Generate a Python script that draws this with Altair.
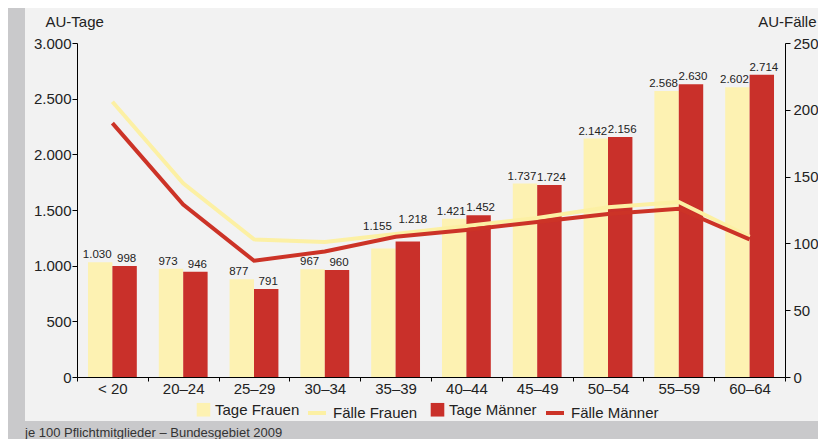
import altair as alt
import pandas as pd

# ---- data ----
categories = ["< 20", "20–24", "25–29", "30–34", "35–39",
              "40–44", "45–49", "50–54", "55–59", "60–64"]
tage_frauen = [1030, 973, 877, 967, 1155, 1421, 1737, 2142, 2568, 2602]
tage_maenner = [998, 946, 791, 960, 1218, 1452, 1724, 2156, 2630, 2714]
faelle_frauen = [206, 145, 103, 101, 107, 113, 119, 127, 131, 105]
faelle_maenner = [190, 129, 87, 94, 105, 110, 116, 122, 126, 103]
left_ticks = [0, 500, 1000, 1500, 2000, 2500, 3000]
right_ticks = [0, 50, 100, 150, 200, 250]
bar_series = ["Tage Frauen", "Tage Männer"]
line_series = ["Fälle Frauen", "Fälle Männer"]
footer_text = "je 100 Pflichtmitglieder – Bundesgebiet 2009"


def de(v):
    return f"{v:,}".replace(",", ".")


bars_df = pd.DataFrame({
    "Alter": categories * 2,
    "Serie": [bar_series[0]] * len(categories) + [bar_series[1]] * len(categories),
    "Wert": tage_frauen + tage_maenner,
})
bars_df["Label"] = bars_df["Wert"].map(de)

lines_df = pd.DataFrame({
    "Alter": categories * 2,
    "Serie": [line_series[0]] * len(categories) + [line_series[1]] * len(categories),
    "Wert": faelle_frauen + faelle_maenner,
})

FONT = "Liberation Sans"
YELLOW = "#fdf2b2"
RED = "#c9302a"
LINE_YELLOW = "#fcf0a4"
LINE_RED = "#cc3327"
TXT = "#222222"

x_enc = alt.X(
    "Alter:N", sort=categories,
    scale=alt.Scale(domain=categories, paddingInner=0, paddingOuter=0),
    axis=alt.Axis(title=None, labelAngle=0, labelFontSize=15, labelFont=FONT,
                  labelColor=TXT, tickBand="extent", tickSize=4, labelPadding=0,
                  domainColor="#000", tickColor="#000", grid=False, zindex=1),
)
xoff_enc = alt.XOffset(
    "Serie:N",
    scale=alt.Scale(domain=bar_series, paddingInner=0, paddingOuter=0.45),
)
y_left = alt.Y(
    "Wert:Q",
    scale=alt.Scale(domain=[0, 3000], nice=False),
    axis=alt.Axis(
        values=left_ticks, labelExpr="replace(format(datum.value, ','), ',', '.')",
        labelFontSize=15, labelFont=FONT, labelColor=TXT, tickSize=5,
        labelPadding=1, domainColor="#000", tickColor="#000", grid=False, zindex=1,
        title="AU-Tage", titleAngle=0, titleAlign="left", titleBaseline="alphabetic",
        titleX=-32, titleY=-17, titleFontSize=15, titleFont=FONT,
        titleFontWeight="normal", titleColor=TXT,
    ),
)
y_right = alt.Y(
    "Wert:Q",
    scale=alt.Scale(domain=[0, 250], nice=False),
    axis=alt.Axis(
        orient="right", values=right_ticks, labelFontSize=15, labelFont=FONT,
        labelColor=TXT, tickSize=5, labelPadding=3, domainColor="#000",
        tickColor="#000", grid=False, zindex=1,
        title="AU-Fälle", titleAngle=0, titleAlign="right", titleBaseline="alphabetic",
        titleX=31, titleY=-17, titleFontSize=15, titleFont=FONT,
        titleFontWeight="normal", titleColor=TXT,
    ),
)

panel = alt.Chart(pd.DataFrame({"p": [0]})).mark_rect(color="#f2f2f2").encode(
    x=alt.value(-52), x2=alt.value(741), y=alt.value(-35), y2=alt.value(378)
)

bars = alt.Chart(bars_df).mark_bar().encode(
    x=x_enc,
    xOffset=xoff_enc,
    y=y_left,
    fill=alt.Fill(
        "Serie:N",
        scale=alt.Scale(domain=bar_series, range=[YELLOW, RED]),
        legend=alt.Legend(
            orient="none", legendX=119, legendY=359, direction="horizontal",
            title=None, symbolType="square", symbolSize=185, symbolStrokeWidth=0,
            labelOffset=4, columnPadding=130, padding=0, labelFontSize=15,
            labelFont=FONT, labelColor=TXT,
        ),
    ),
)


def label_layer(series, raised, dx):
    cond = (alt.datum.Serie == series) & (
        (alt.datum.Alter == "35–39") if raised else (alt.datum.Alter != "35–39")
    )
    return alt.Chart(bars_df).transform_filter(cond).mark_text(
        baseline="alphabetic", fontSize=11.5, font=FONT, color=TXT,
        dy=-18 if raised else -4, dx=dx,
    ).encode(x=x_enc, xOffset=xoff_enc, y=y_left, text="Label:N")


labels = [
    label_layer(bar_series[0], False, -3),
    label_layer(bar_series[1], False, 2),
    label_layer(bar_series[0], True, -6),
    label_layer(bar_series[1], True, 5),
]

lines = alt.Chart(lines_df).mark_line(strokeWidth=4).encode(
    x=x_enc,
    y=y_right,
    stroke=alt.Stroke(
        "Serie:N",
        scale=alt.Scale(domain=line_series, range=[LINE_YELLOW, LINE_RED]),
        legend=alt.Legend(
            orient="none", legendX=229, legendY=359, direction="horizontal",
            title=None, symbolType="stroke", symbolSize=324, symbolStrokeWidth=4,
            labelOffset=5, columnPadding=120, padding=0, labelFontSize=15,
            labelFont=FONT, labelColor=TXT,
        ),
    ),
)

footer = alt.Chart(pd.DataFrame({"t": [footer_text]})).mark_text(
    align="left", baseline="alphabetic", fontSize=13, font=FONT, color="#333333"
).encode(x=alt.value(-52), y=alt.value(394), text="t:N")

chart = alt.layer(
    panel,
    alt.layer(bars, *labels),
    lines,
    footer,
).resolve_scale(
    y="independent", fill="independent", stroke="independent"
).properties(
    width=708, height=334,
    padding={"left": 69, "top": 35, "right": 33, "bottom": 62},
    autosize=alt.AutoSizeParams(type="none"),
    background="#c9c9cb",
).configure_view(stroke=None)

chart.save("out.html", embed_options={"renderer": "svg", "actions": False})
